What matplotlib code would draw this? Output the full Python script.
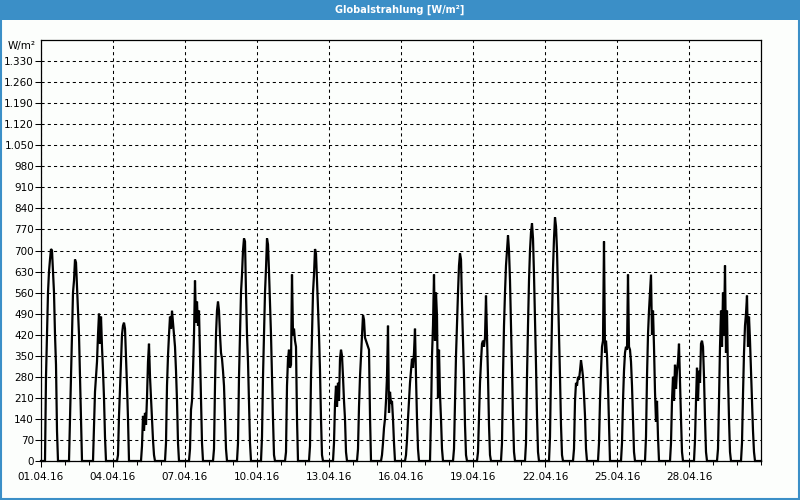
import matplotlib as mpl

mpl.use("Agg")

import matplotlib.pyplot as plt
from matplotlib.patches import Rectangle

# hourly global radiation (W/m²), one row per day of April 2016, hours 4..18
HOURS = list(range(4, 19))
DAY_VALUES = [
    [0, 280, 420, 560, 630, 670, 705, 700, 630, 560, 420, 320, 100, 0, 0],
    [0, 140, 280, 420, 560, 600, 670, 660, 580, 500, 420, 280, 140, 0, 0],
    [0, 120, 230, 280, 330, 420, 490, 390, 480, 380, 300, 210, 80, 0, 0],
    [0, 20, 150, 240, 320, 420, 450, 460, 440, 350, 250, 140, 0, 0, 0],
    [0, 50, 150, 100, 160, 120, 210, 330, 390, 280, 210, 140, 70, 20, 0],
    [0, 60, 250, 350, 420, 480, 440, 500, 460, 420, 380, 300, 200, 60, 0],
    [0, 40, 170, 200, 300, 420, 600, 460, 530, 450, 500, 350, 210, 60, 0],
    [0, 40, 250, 420, 500, 530, 500, 420, 360, 340, 300, 250, 140, 40, 0],
    [0, 60, 280, 420, 560, 620, 700, 740, 730, 560, 420, 330, 200, 60, 0],
    [0, 80, 280, 420, 560, 640, 740, 720, 630, 520, 420, 280, 140, 20, 0],
    [0, 30, 250, 340, 370, 310, 320, 620, 420, 440, 400, 380, 140, 0, 0],
    [0, 50, 280, 420, 560, 620, 705, 690, 600, 500, 420, 300, 140, 20, 0],
    [0, 60, 190, 250, 180, 260, 200, 340, 370, 350, 280, 200, 140, 30, 0],
    [0, 40, 180, 280, 350, 420, 485, 470, 410, 400, 390, 380, 370, 150, 0],
    [0, 20, 60, 110, 140, 200, 280, 450, 160, 230, 190, 200, 140, 60, 0],
    [0, 20, 70, 140, 200, 260, 300, 340, 310, 360, 440, 280, 140, 40, 0],
    [0, 0, 150, 350, 450, 620, 400, 560, 480, 210, 370, 220, 140, 40, 0],
    [0, 40, 200, 350, 460, 560, 650, 690, 670, 520, 400, 280, 120, 20, 0],
    [0, 30, 140, 260, 330, 390, 400, 380, 410, 550, 420, 280, 120, 20, 0],
    [0, 60, 280, 450, 560, 650, 700, 750, 700, 600, 450, 300, 150, 30, 0],
    [0, 60, 280, 450, 600, 700, 760, 790, 740, 620, 470, 320, 150, 30, 0],
    [0, 80, 300, 480, 640, 740, 810, 780, 700, 560, 420, 280, 120, 20, 0],
    [0, 40, 200, 260, 250, 280, 270, 300, 335, 310, 280, 220, 150, 40, 0],
    [0, 0, 60, 200, 300, 380, 400, 730, 360, 400, 350, 250, 120, 0, 0],
    [0, 60, 200, 300, 360, 380, 370, 620, 380, 370, 330, 250, 140, 30, 0],
    [0, 80, 280, 420, 500, 560, 620, 420, 500, 380, 230, 130, 200, 80, 0],
    [0, 0, 60, 200, 280, 200, 320, 240, 300, 330, 390, 260, 140, 30, 0],
    [0, 0, 70, 200, 310, 200, 300, 260, 390, 400, 380, 280, 140, 30, 0],
    [0, 40, 200, 380, 500, 380, 560, 420, 650, 360, 500, 280, 140, 30, 0],
    [0, 60, 220, 360, 450, 490, 550, 380, 480, 400, 300, 200, 100, 30, 0],
]
X_TICK_LABELS = ["01.04.16", "04.04.16", "07.04.16", "10.04.16", "13.04.16",
                 "16.04.16", "19.04.16", "22.04.16", "25.04.16", "28.04.16"]
Y_TICK_LABELS = ["0", "70", "140", "210", "280", "350", "420", "490", "560",
                 "630", "700", "770", "840", "910", "980", "1.050", "1.120",
                 "1.190", "1.260", "1.330"]

BLUE = "#3b8fc7"
BG = "#fcfefc"

# continuous time axis in days
xs = [0.0]
ys = [0.0]
for day, values in enumerate(DAY_VALUES):
    for h, v in zip(HOURS, values):
        xs.append(day + h / 24)
        ys.append(v)
xs.append(len(DAY_VALUES))
ys.append(0.0)

fig = plt.figure(figsize=(8, 5), dpi=100, facecolor=BG)
ax = fig.add_axes([41 / 800, 1 - 461 / 500, 720 / 800, 421 / 500])
ax.set_facecolor(BG)

# title bar and frame
fig.patches.append(Rectangle((0, 480 / 500), 1, 20 / 500, transform=fig.transFigure,
                             facecolor=BLUE, edgecolor="none", zorder=0))
fig.patches.append(Rectangle((0.001, 0.002), 0.998, 0.996, transform=fig.transFigure,
                             facecolor="none", edgecolor=BLUE, linewidth=1.5, zorder=0))
fig.text(0.5, 1 - 10 / 500, "Globalstrahlung [W/m²]", color="white", fontsize=7,
         fontweight="bold", ha="center", va="center")

ax.plot(xs, ys, color="black", linewidth=1.6, clip_on=False, zorder=3,
        solid_joinstyle="miter")

ax.set_xlim(0, 30)
ax.set_ylim(0, 1400)

y_ticks = [int(s.replace(".", "")) for s in Y_TICK_LABELS]
ax.set_yticks(y_ticks)
ax.set_yticklabels(Y_TICK_LABELS)
ax.set_xticks(list(range(0, 30, 3)))
ax.set_xticklabels(X_TICK_LABELS)
ax.set_xticks(range(0, 31), minor=True)

ax.grid(True, which="major", color="black", linestyle=(0, (3, 3)), linewidth=0.75)
ax.set_axisbelow(True)
for sp in ax.spines.values():
    sp.set_linewidth(0.9)
    sp.set_color("black")

ax.tick_params(axis="y", length=4, width=0.75, labelsize=7.5, pad=1)
ax.tick_params(axis="x", which="major", length=4, width=0.75, labelsize=7.5, pad=4)
ax.tick_params(axis="x", which="minor", length=3, width=0.75)

fig.text(36 / 800, 1 - 46 / 500, "W/m²", fontsize=7.5, ha="right", va="center")

fig.savefig("out.png", dpi=100, facecolor=BG)
